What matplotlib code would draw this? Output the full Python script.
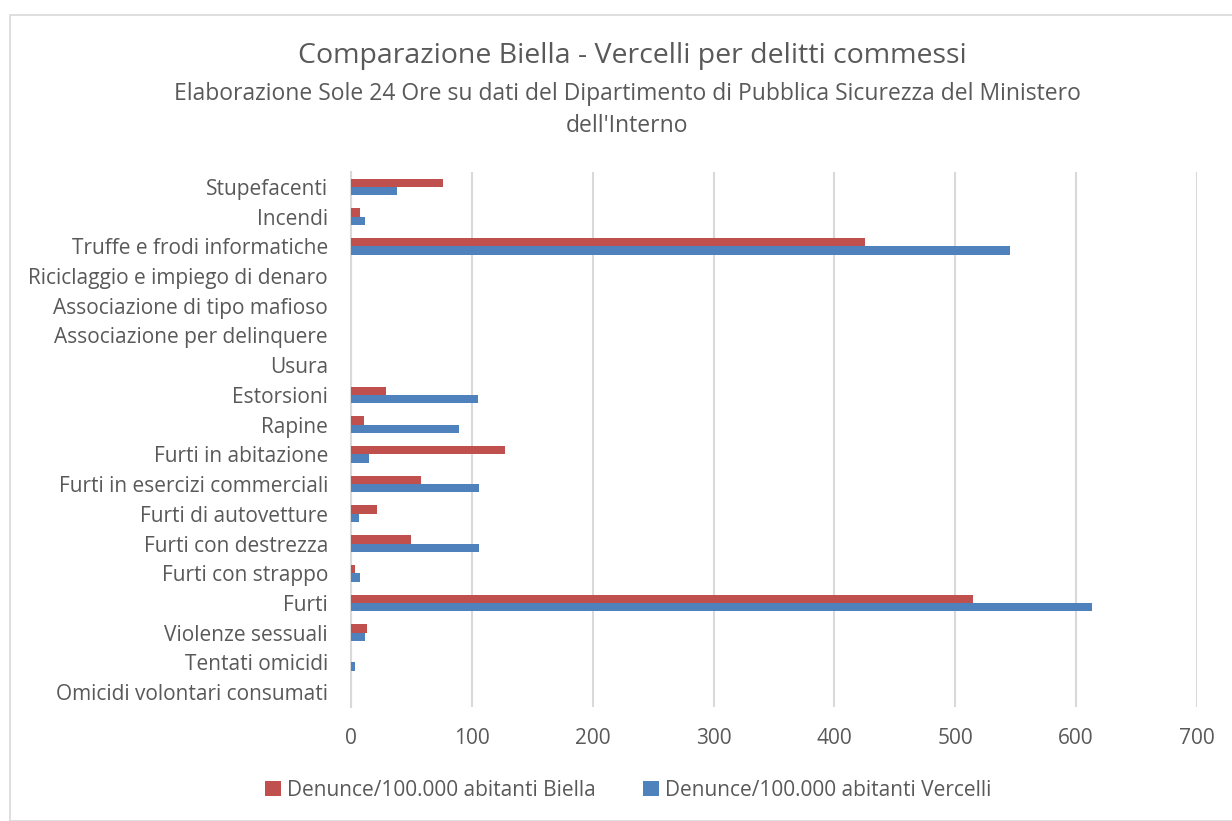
import matplotlib
matplotlib.use("Agg")
import matplotlib.pyplot as plt
import numpy as np
from matplotlib.patches import Rectangle

plt.rcParams["font.family"] = ["Open Sans", "DejaVu Sans"]

# categories listed top to bottom as in the chart
categories = [
    "Stupefacenti",
    "Incendi",
    "Truffe e frodi informatiche",
    "Riciclaggio e impiego di denaro",
    "Associazione di tipo mafioso",
    "Associazione per delinquere",
    "Usura",
    "Estorsioni",
    "Rapine",
    "Furti in abitazione",
    "Furti in esercizi commerciali",
    "Furti di autovetture",
    "Furti con destrezza",
    "Furti con strappo",
    "Furti",
    "Violenze sessuali",
    "Tentati omicidi",
    "Omicidi volontari consumati",
]
biella = [76, 7.5, 425, 0, 0, 0, 0, 28.7, 11, 127.6, 57.6, 21.8, 49.9, 3, 515, 13, 0, 0]
vercelli = [38, 11.5, 545, 0, 0, 0, 0, 104.8, 89.6, 15, 106, 6.9, 106, 7.2, 613.5, 11.3, 3.3, 0]
xticks = [0, 100, 200, 300, 400, 500, 600, 700]

RED = "#C0504D"
BLUE = "#4F81BD"
TXT = "#595959"

fig = plt.figure(figsize=(12.32, 8.21), dpi=100)
fig.patches.append(Rectangle((10 / 1232, 0), 1.0, 1 - 15 / 821, transform=fig.transFigure,
                             fill=False, edgecolor="#d9d9d9", linewidth=1.2))
ax = fig.add_axes([351 / 1232, 1 - 707 / 821, (1197 - 351) / 1232, 535 / 821])

n = len(categories)
y = np.arange(n)[::-1]
h = 0.28
ax.barh(y + h / 2, biella, height=h, color=RED, label="Denunce/100.000 abitanti Biella", zorder=3)
ax.barh(y - h / 2, vercelli, height=h, color=BLUE, label="Denunce/100.000 abitanti Vercelli", zorder=3)

ax.set_ylim(-0.5, n - 0.5)
ax.set_xlim(0, 700)
ax.set_xticks(xticks)
ax.set_yticks(y)
ax.set_yticklabels(categories)
ax.tick_params(axis="both", length=0, labelsize=15, colors=TXT)
ax.tick_params(axis="x", pad=15)
ax.tick_params(axis="y", pad=16.5)
ax.grid(axis="x", color="#d9d9d9", linewidth=1.5, zorder=0)
for s in ("top", "right", "bottom"):
    ax.spines[s].set_visible(False)
ax.spines["left"].set_color("#d9d9d9")
ax.spines["left"].set_linewidth(1.5)

fig.text(0.513, 1 - 56 / 821, "Comparazione Biella - Vercelli per delitti commessi",
         ha="center", va="center", fontsize=20.5, color=TXT)
fig.text(0.509, 1 - 110 / 821,
         "Elaborazione Sole 24 Ore su dati del Dipartimento di Pubblica Sicurezza del Ministero\ndell'Interno",
         ha="center", va="center", fontsize=16.5, color=TXT, linespacing=1.45)

fig.legend(loc="center", bbox_to_anchor=(0.51, 1 - 790 / 821), ncol=2, frameon=False,
           fontsize=15, labelcolor=TXT, handlelength=0.75, handleheight=0.75,
           handletextpad=0.3, columnspacing=2.3)

fig.savefig("out.png", dpi=100)
